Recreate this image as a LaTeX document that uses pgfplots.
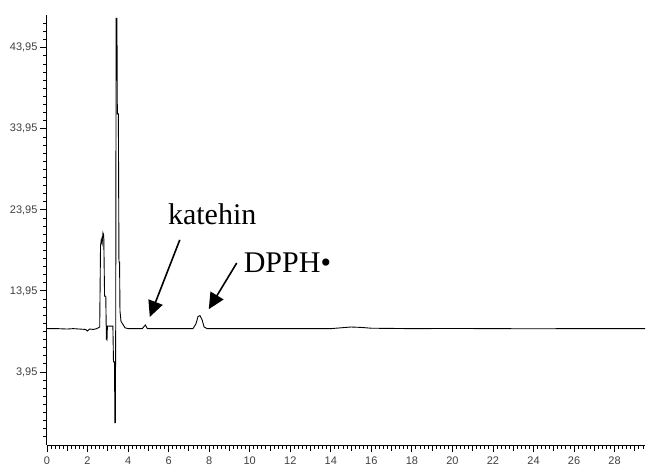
\documentclass[border=0pt]{standalone}
\usepackage{fontspec}
\setmainfont{Liberation Serif}
\newfontfamily\arial{Liberation Sans}
\usepackage{pgfplots}
\usetikzlibrary{arrows.meta}
\pgfplotsset{compat=1.18}
\begin{document}
\begin{tikzpicture}
\useasboundingbox (-47pt,-22pt) rectangle (599pt,445pt);
\begin{axis}[
  scale only axis, width=598pt, height=430pt,
  xmin=0, xmax=29.5, ymin=-5.06, ymax=48,
  axis x line=bottom, axis y line=left,
  axis line style={-, line width=1pt, black},
  tick align=outside,
  xtick={0,2,...,28},
  minor xtick={0,0.2,...,29.4},
  extra x ticks={1,3,...,29},
  extra x tick labels={},
  extra x tick style={major tick length=6pt},
  ytick={3.95,13.95,23.95,33.95,43.95},
  yticklabels={3{,}95,13{,}95,23{,}95,33{,}95,43{,}95},
  minor ytick={-4.05,-3.05,...,47.0},
  major tick length=7pt, minor tick length=4pt,
  every tick/.style={black, line width=0.9pt},
  tick label style={font=\arial\fontsize{11}{12}\selectfont, text=black!75},
  /pgf/number format/assume math mode=true,
  xticklabel style={yshift=-1pt},
  yticklabel style={xshift=1pt},
  clip=false,
]
\addplot[black, line width=0.9pt] coordinates {
(0,9.3)(0.5,9.3)(1.0,9.25)(1.3,9.3)(1.6,9.25)(1.9,9.2)(2.0,9.0)(2.1,9.25)(2.3,9.2)(2.45,9.3)
(2.6,9.5)(2.64,19.5)(2.68,20.3)(2.72,19.8)(2.76,21.1)(2.80,20.8)(2.84,13.3)(2.90,13.3)
(2.93,8.0)(2.96,7.9)(2.98,9.6)(3.25,9.6)(3.28,5.2)(3.33,5.2)(3.35,-2.3)(3.37,-2.3)
(3.39,9.6)(3.41,47.6)(3.45,47.6)(3.47,35.8)(3.52,35.8)(3.55,17.5)(3.58,17.5)(3.6,11.5)
(3.65,10.2)(3.75,9.8)(3.85,9.4)(4.0,9.3)(4.7,9.3)(4.85,9.75)(4.95,9.3)(7.2,9.3)
(7.35,9.9)(7.45,10.8)(7.55,10.9)(7.65,10.4)(7.75,9.5)(7.9,9.3)(14,9.3)(14.5,9.4)
(15,9.5)(15.5,9.45)(16,9.35)(18,9.3)(20,9.32)(22,9.3)(24,9.28)(26,9.3)(28,9.3)(29.5,9.3)
};
\node[anchor=base, font=\fontsize{30}{31}\selectfont] at (axis cs:8.15,22.1) {katehin};
\node[anchor=base west, font=\fontsize{30}{31}\selectfont, inner sep=0pt] at (axis cs:9.7,16.2) {DPPH•};
\draw[-{Triangle[length=16pt,width=15pt]}, line width=1.6pt] (axis cs:6.55,20.25) -- (axis cs:5.07,10.74);
\draw[-{Triangle[length=16pt,width=15pt]}, line width=1.6pt] (axis cs:9.36,17.4) -- (axis cs:7.98,11.7);
\end{axis}
\end{tikzpicture}
\end{document}
